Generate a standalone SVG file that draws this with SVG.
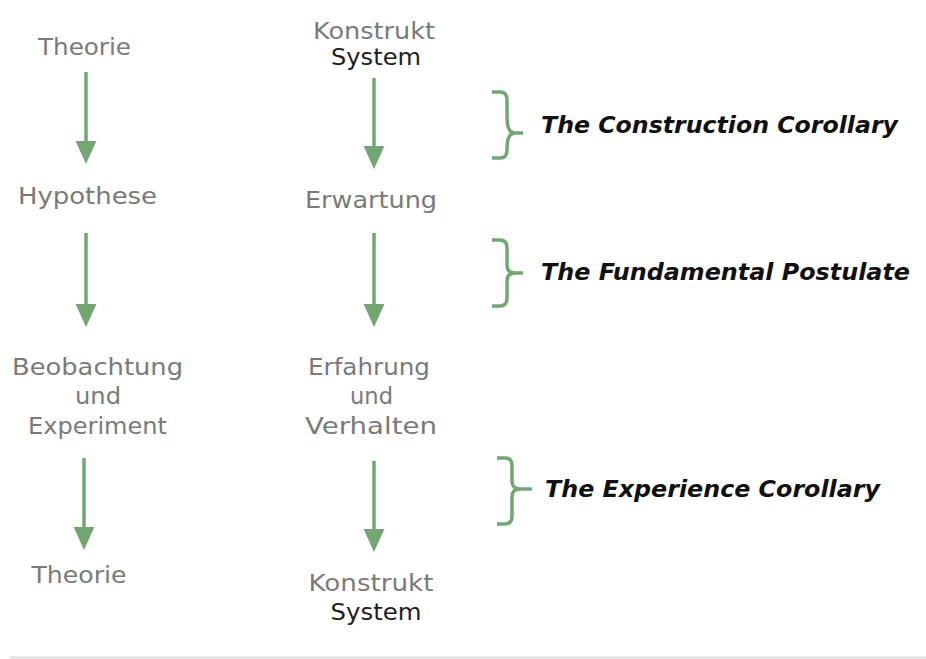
<svg xmlns="http://www.w3.org/2000/svg" width="926" height="659" viewBox="0 0 926 659">
  <style>
    .lbl { font-family: "DejaVu Sans", Verdana, sans-serif; font-size: 23px; fill: #7a7a7a; text-anchor: middle; }
    .dark { fill: #1e1e1e; }
    .note { font-family: "DejaVu Sans", Verdana, sans-serif; font-size: 23px; font-weight: bold; font-style: italic; fill: #111; }
    .arrow { stroke: #72a672; stroke-width: 3.5; fill: none; marker-end: url(#head); }
    .brace { stroke: #72a672; stroke-width: 3.5; fill: none; stroke-linejoin: round; }
  </style>
  <defs>
    <marker id="head" markerUnits="userSpaceOnUse" markerWidth="24" markerHeight="24" refX="0" refY="0" viewBox="0 -11 23 22" orient="auto">
      <path d="M0,-10 L22,0 L0,10 Z" fill="#72a672"/>
    </marker>
  </defs>

  <rect width="926" height="659" fill="#fff"/>

  <!-- left column: scientific method -->
  <g id="n-theorie-top"><text class="lbl" x="84.5" y="55" textLength="93" lengthAdjust="spacingAndGlyphs">Theorie</text></g>
  <g id="n-hypothese"><text class="lbl" x="87.5" y="204" textLength="139" lengthAdjust="spacingAndGlyphs">Hypothese</text></g>
  <g id="n-beobachtung">
    <text class="lbl" x="97.5" y="375" textLength="171" lengthAdjust="spacingAndGlyphs">Beobachtung</text>
    <text class="lbl" x="98" y="404" textLength="46" lengthAdjust="spacingAndGlyphs">und</text>
    <text class="lbl" x="97.5" y="434" textLength="139" lengthAdjust="spacingAndGlyphs">Experiment</text>
  </g>
  <g id="n-theorie-bottom"><text class="lbl" x="79" y="583" textLength="95" lengthAdjust="spacingAndGlyphs">Theorie</text></g>

  <!-- right column: construct system cycle -->
  <g id="n-konstrukt-top">
    <text class="lbl" x="374" y="39" textLength="122" lengthAdjust="spacingAndGlyphs">Konstrukt</text>
    <text class="lbl dark" x="376" y="65" textLength="90" lengthAdjust="spacingAndGlyphs">System</text>
  </g>
  <g id="n-erwartung"><text class="lbl" x="371" y="208" textLength="132" lengthAdjust="spacingAndGlyphs">Erwartung</text></g>
  <g id="n-erfahrung">
    <text class="lbl" x="369" y="375" textLength="122" lengthAdjust="spacingAndGlyphs">Erfahrung</text>
    <text class="lbl" x="371.5" y="404" textLength="43" lengthAdjust="spacingAndGlyphs">und</text>
    <text class="lbl" x="371" y="434" textLength="132" lengthAdjust="spacingAndGlyphs">Verhalten</text>
  </g>
  <g id="n-konstrukt-bottom">
    <text class="lbl" x="371" y="591" textLength="125" lengthAdjust="spacingAndGlyphs">Konstrukt</text>
    <text class="lbl dark" x="376" y="620" textLength="91" lengthAdjust="spacingAndGlyphs">System</text>
  </g>

  <!-- corollary annotations -->
  <g id="n-construction">
    <path class="brace" d="M492,92 H500 Q507,92 507,100 V117 Q507,133 515,133 H523 M515,133 Q507,133 507,149 V150 Q507,158 500,158 H492"/>
    <text class="note" x="541" y="133" textLength="357" lengthAdjust="spacingAndGlyphs">The Construction Corollary</text>
  </g>
  <g id="n-fundamental">
    <path class="brace" d="M492,240 H500 Q507,240 507,248 V265 Q507,273 515,273 H523 M515,273 Q507,273 507,281 V298 Q507,306 500,306 H492"/>
    <text class="note" x="541" y="280" textLength="369" lengthAdjust="spacingAndGlyphs">The Fundamental Postulate</text>
  </g>
  <g id="n-experience">
    <path class="brace" d="M497,458 H505 Q512,458 512,466 V481 Q512,489 520,489 H532 M520,489 Q512,489 512,497 V516 Q512,524 505,524 H497"/>
    <text class="note" x="545" y="497" textLength="335" lengthAdjust="spacingAndGlyphs">The Experience Corollary</text>
  </g>

  <!-- connectors -->
  <g id="connectors">
    <line class="arrow" x1="86" y1="72" x2="86" y2="141"/>
    <line class="arrow" x1="86" y1="233" x2="86" y2="304"/>
    <line class="arrow" x1="84" y1="458" x2="84" y2="527"/>
    <line class="arrow" x1="374" y1="78" x2="374" y2="146"/>
    <line class="arrow" x1="374" y1="233" x2="374" y2="304"/>
    <line class="arrow" x1="374" y1="461" x2="374" y2="529"/>
  </g>

  <!-- footer rule -->
  <line x1="10" y1="657.5" x2="926" y2="657.5" stroke="#dcdcdc" stroke-width="2"/>
</svg>
